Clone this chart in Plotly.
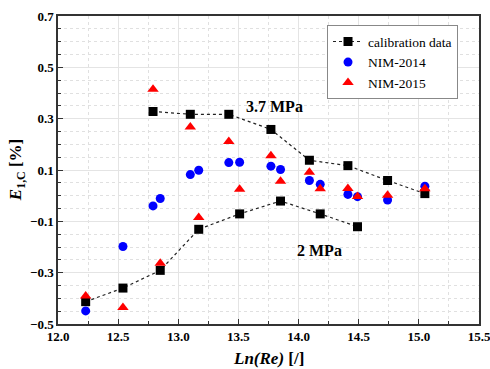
import plotly.graph_objects as go

# Calibration data at 3.7 MPa and 2 MPa
cal37_x = [12.79, 13.10, 13.42, 13.77, 14.09, 14.41, 14.74, 15.05]
cal37_y = [0.328, 0.317, 0.317, 0.258, 0.138, 0.117, 0.059, 0.008]
cal2_x = [12.23, 12.54, 12.85, 13.17, 13.51, 13.85, 14.18, 14.49]
cal2_y = [-0.413, -0.360, -0.291, -0.131, -0.071, -0.021, -0.071, -0.121]

# NIM-2014
nim14_x = [12.23, 12.54, 12.79, 12.85, 13.10, 13.17, 13.42, 13.51,
           13.77, 13.85, 14.09, 14.18, 14.41, 14.49, 14.74, 15.05]
nim14_y = [-0.449, -0.198, -0.040, -0.011, 0.082, 0.099, 0.129, 0.130,
           0.115, 0.102, 0.059, 0.044, 0.005, -0.004, -0.017, 0.037]

# NIM-2015
nim15_x = [12.23, 12.54, 12.79, 12.85, 13.10, 13.17, 13.42, 13.51,
           13.77, 13.85, 14.09, 14.18, 14.41, 14.49, 14.74, 15.05]
nim15_y = [-0.391, -0.436, 0.415, -0.263, 0.268, -0.085, 0.211, 0.025,
           0.156, 0.056, 0.091, 0.027, 0.028, -0.003, 0.002, 0.027]

x_title = "<b><i>Ln(Re)</i> [/]</b>"
y_title = "<b><i>E</i><sub>1,C</sub> [%]</b>"

SERIF = "Times New Roman, Liberation Serif, serif"

fig = go.Figure()

fig.add_trace(go.Scatter(
    x=cal37_x, y=cal37_y, mode="lines+markers", name="calibration data",
    line=dict(color="#222", width=1.2, dash="dot"),
    marker=dict(symbol="square", size=9, color="black"),
    legendrank=1, legendgroup="cal"))
fig.add_trace(go.Scatter(
    x=cal2_x, y=cal2_y, mode="lines+markers", name="calibration data",
    line=dict(color="#222", width=1.2, dash="dot"),
    marker=dict(symbol="square", size=9, color="black"),
    showlegend=False, legendgroup="cal"))
fig.add_trace(go.Scatter(
    x=nim14_x, y=nim14_y, mode="markers", name="NIM-2014",
    marker=dict(symbol="circle", size=9, color="#0000ff"),
    legendrank=2))
fig.add_trace(go.Scatter(
    x=nim15_x, y=nim15_y, mode="markers", name="NIM-2015",
    marker=dict(symbol="triangle-up", size=10, color="#ff0000"),
    legendrank=3))

# Pressure labels
fig.add_annotation(x=13.80, y=0.348, text="<b>3.7 MPa</b>", showarrow=False,
                   font=dict(family=SERIF, size=16, color="black"))
fig.add_annotation(x=14.17, y=-0.215, text="<b>2 MPa</b>", showarrow=False,
                   font=dict(family=SERIF, size=16, color="black"))

# Axis titles
fig.add_annotation(x=0.499, y=-0.113, xref="paper", yref="paper",
                   text=x_title, showarrow=False,
                   xanchor="center", yanchor="middle",
                   font=dict(family=SERIF, size=17, color="black"))
fig.add_annotation(x=-0.097, y=0.5, xref="paper", yref="paper",
                   text=y_title, showarrow=False, textangle=-90,
                   xanchor="center", yanchor="middle",
                   font=dict(family=SERIF, size=17, color="black"))

axis_common = dict(
    showline=True, linecolor="#333", linewidth=1.5, mirror=True,
    ticks="inside", ticklen=5, tickcolor="#333",
    showgrid=True, gridcolor="#e4e4e4", gridwidth=1,
    zeroline=False, automargin=False, ticklabeloverflow="allow",
    tickfont=dict(family=SERIF, size=13, color="black", weight="bold"),
)

fig.update_xaxes(
    range=[12.0, 15.5], dtick=0.5, tick0=12.0, tickformat=".1f",
    minor=dict(dtick=0.25, ticks="inside", ticklen=3, tickcolor="#333",
               showgrid=True, gridcolor="#e0e0e0", griddash="dot"),
    **axis_common)
fig.update_yaxes(
    range=[-0.5, 0.7], dtick=0.2, tick0=-0.5, tickformat=".1f",
    minor=dict(dtick=0.05, ticks="inside", ticklen=3, tickcolor="#333",
               showgrid=True, gridcolor="#e0e0e0", griddash="dot"),
    **axis_common)

fig.update_layout(
    width=490, height=369,
    margin=dict(l=58, r=11, t=16, b=45),
    font=dict(family=SERIF, color="black"),
    plot_bgcolor="white", paper_bgcolor="white",
    showlegend=True,
    legend=dict(x=0.639, y=0.97, xanchor="left", yanchor="top",
                bgcolor="white", bordercolor="#888", borderwidth=1,
                font=dict(family=SERIF, size=13.5, color="black"),
                tracegroupgap=0, itemwidth=30),
)

fig.write_html("out.html")
